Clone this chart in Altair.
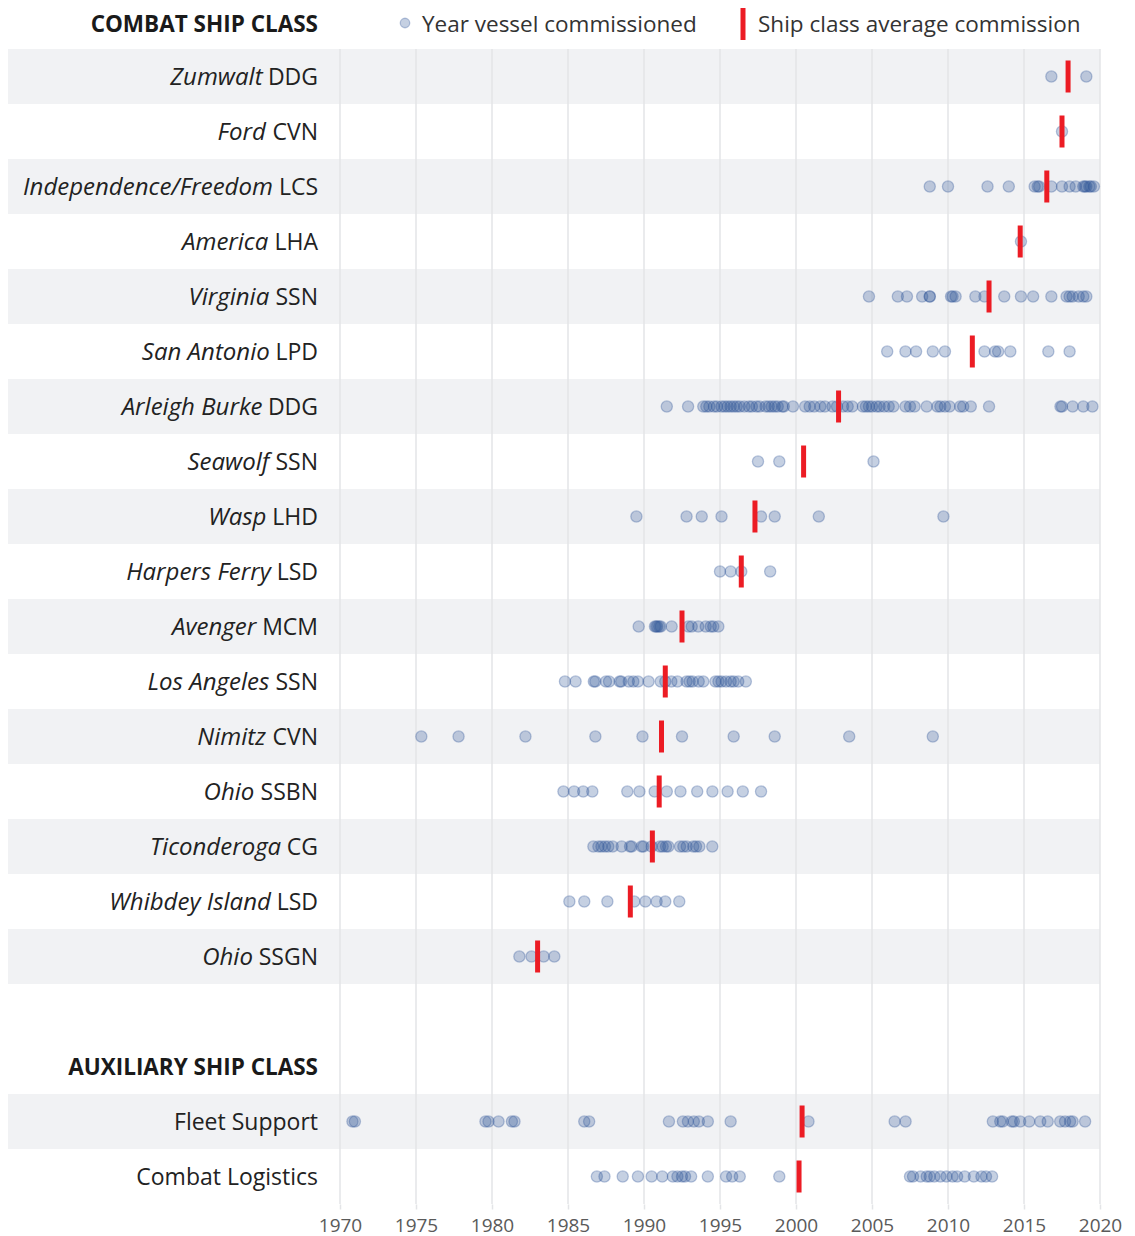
import altair as alt
import pandas as pd

# ---------------- data ----------------
CLASS_NAMES = ["Zumwalt", "Ford", "Independence/Freedom", "America", "Virginia",
               "San Antonio", "Arleigh Burke", "Seawolf", "Wasp", "Harpers Ferry",
               "Avenger", "Los Angeles", "Nimitz", "Ohio", "Ticonderoga",
               "Whibdey Island", "Ohio"]
CLASS_TYPES = ["DDG", "CVN", "LCS", "LHA", "SSN", "LPD", "DDG", "SSN", "LHD", "LSD",
               "MCM", "SSN", "CVN", "SSBN", "CG", "LSD", "SSGN"]

COMBAT_YEARS = [
    [2016.8, 2019.1],
    [2017.5],
    [2008.8, 2010.0, 2012.6, 2014.0, 2015.7, 2015.9, 2016.0, 2016.8, 2017.5, 2018.0,
     2018.4, 2018.9, 2019.0, 2019.1, 2019.3, 2019.4, 2019.6],
    [2014.8],
    [2004.8, 2006.7, 2007.3, 2008.3, 2008.8, 2008.8, 2010.2, 2010.3, 2010.5, 2011.8,
     2012.4, 2013.7, 2014.8, 2015.6, 2016.8, 2017.8, 2018.0, 2018.2, 2018.6, 2018.9, 2019.1],
    [2006.0, 2007.2, 2007.9, 2009.0, 2009.8, 2012.4, 2013.1, 2013.3, 2014.1, 2016.6, 2018.0],
    [1991.5, 1992.9, 1993.9, 1994.1, 1994.3, 1994.6, 1994.8, 1995.1, 1995.3, 1995.5,
     1995.7, 1995.9, 1996.1, 1996.3, 1996.6, 1996.9, 1997.1, 1997.4, 1997.6, 1998.0,
     1998.2, 1998.4, 1998.6, 1998.8, 1999.1, 1999.2, 1999.8, 2000.6, 2000.9, 2001.2,
     2001.6, 2001.9, 2002.4, 2002.7, 2003.1, 2003.4, 2003.7, 2004.4, 2004.6, 2004.8,
     2005.0, 2005.3, 2005.5, 2005.8, 2006.1, 2006.4, 2007.2, 2007.5, 2007.8, 2008.6,
     2009.3, 2009.5, 2009.8, 2010.1, 2010.8, 2011.0, 2011.5, 2012.7, 2017.4, 2017.5,
     2018.2, 2018.9, 2019.5],
    [1997.5, 1998.9, 2005.1],
    [1989.5, 1992.8, 1993.8, 1995.1, 1997.7, 1998.6, 2001.5, 2009.7],
    [1995.0, 1995.7, 1996.4, 1998.3],
    [1989.65, 1990.72, 1990.8, 1990.88, 1991.0, 1991.1, 1991.82, 1992.92, 1993.14,
     1993.57, 1994.06, 1994.39, 1994.56, 1994.89],
    [1984.8, 1985.5, 1986.7, 1986.8, 1987.5, 1987.7, 1988.4, 1988.5, 1989.0, 1989.3,
     1989.6, 1990.3, 1991.1, 1991.4, 1991.8, 1992.2, 1992.8, 1993.0, 1993.2, 1993.6,
     1993.9, 1994.7, 1994.9, 1995.1, 1995.4, 1995.7, 1995.9, 1996.2, 1996.7],
    [1975.35, 1977.8, 1982.2, 1986.8, 1989.9, 1992.5, 1995.9, 1998.6, 2003.5, 2009.0],
    [1984.7, 1985.4, 1986.0, 1986.6, 1988.9, 1989.7, 1990.7, 1991.5, 1992.4, 1993.5,
     1994.5, 1995.5, 1996.5, 1997.7],
    [1986.67, 1987.0, 1987.2, 1987.43, 1987.65, 1987.94, 1988.53, 1989.08, 1989.19,
     1989.85, 1989.96, 1990.5, 1991.05, 1991.23, 1991.45, 1991.6, 1992.37, 1992.59,
     1992.81, 1993.24, 1993.42, 1993.64, 1994.49],
    [1985.09, 1986.07, 1987.59, 1989.36, 1990.09, 1990.83, 1991.4, 1992.32],
    [1981.8, 1982.6, 1983.4, 1984.1],
]
COMBAT_AVERAGES = [2017.9, 2017.5, 2016.5, 2014.75, 2012.7, 2011.6, 2002.8, 2000.5,
                   1997.3, 1996.4, 1992.5, 1991.4, 1991.15, 1991.0, 1990.55, 1989.1,
                   1983.0]

AUX_NAMES = ["Fleet Support", "Combat Logistics"]
AUX_YEARS = [
    [1970.82, 1970.98, 1979.57, 1979.77, 1980.43, 1981.31, 1981.48, 1986.07, 1986.39,
     1991.64, 1992.56, 1992.89, 1993.28, 1993.61, 1994.2, 1995.7, 2000.82, 2006.49,
     2007.21, 2012.95, 2013.44, 2013.6, 2014.2, 2014.33, 2014.75, 2015.34, 2016.07,
     2016.56, 2017.38, 2017.7, 2018.03, 2018.2, 2019.02],
    [1986.9, 1987.4, 1988.6, 1989.6, 1990.5, 1991.2, 1991.9, 1992.2, 1992.5, 1992.7,
     1993.1, 1994.2, 1995.4, 1995.8, 1996.3, 1998.9, 2007.5, 2007.7, 2008.2, 2008.6,
     2008.8, 2009.1, 2009.5, 2009.9, 2010.3, 2010.6, 2011.1, 2011.7, 2012.2, 2012.5,
     2012.9],
]
AUX_AVERAGES = [2000.4, 2000.2]

TICK_YEARS = [1970, 1975, 1980, 1985, 1990, 1995, 2000, 2005, 2010, 2015, 2020]

COMBAT_HEADER = "COMBAT SHIP CLASS"
AUX_HEADER = "AUXILIARY SHIP CLASS"
LEGEND_DOT = "Year vessel commissioned"
LEGEND_BAR = "Ship class average commission"

# ---------------- styling ----------------
FONT = "Open Sans"
LABEL_SIZE = 23
ITALIC_SIZE = 24
HEAD_SIZE = 22.5
LEGEND_SIZE = 22.5
ROW_H = 55
PLOT_W = 760
GREY = "#f1f2f4"
DOT = "#2f5597"
RED = "#ec1c24"
LABEL_X = -22
TOP_Y = -24

# approximate advance widths (em) of capitals in the label font
CAP_EM = {"A": 0.64, "B": 0.65, "C": 0.63, "D": 0.72, "G": 0.71, "H": 0.74,
          "L": 0.52, "M": 0.90, "N": 0.76, "P": 0.60, "S": 0.55, "V": 0.62}
SPACE_EM = 0.26


def text_w(s):
    return sum(CAP_EM.get(c, 0.65) for c in s) * LABEL_SIZE

# ---------------- tables ----------------
combat_keys = [f"{n} {t}" for n, t in zip(CLASS_NAMES, CLASS_TYPES)]
gap_key = "_gap"
domain = combat_keys + [gap_key, AUX_HEADER] + AUX_NAMES
N_ROWS = len(domain)

rows = pd.DataFrame({
    "row": domain,
    "grey": [i % 2 == 0 for i in range(len(combat_keys))] + [False, False] +
            [i % 2 == 0 for i in range(len(AUX_NAMES))],
})

dots = pd.DataFrame(
    [{"row": k, "year": y} for k, ys in zip(combat_keys, COMBAT_YEARS) for y in ys] +
    [{"row": k, "year": y} for k, ys in zip(AUX_NAMES, AUX_YEARS) for y in ys]
)
avgs = pd.DataFrame({"row": combat_keys + AUX_NAMES,
                     "year": COMBAT_AVERAGES + AUX_AVERAGES})
labels = pd.DataFrame({"row": combat_keys, "name": CLASS_NAMES, "type": CLASS_TYPES})
aux_labels = pd.DataFrame({"row": AUX_NAMES, "name": AUX_NAMES})
grid = pd.DataFrame({"year": TICK_YEARS})

yscale = alt.Scale(type="band", domain=domain, paddingInner=0, paddingOuter=0)
Y = alt.Y("row:N", scale=yscale, axis=None)
xaxis = alt.Axis(values=TICK_YEARS, format="d", grid=False, domain=False, ticks=True,
                 tickColor="#e3e4e7", tickSize=5, tickWidth=1.5, labelFontSize=19,
                 labelColor="#5a5a5a", labelFont=FONT, labelPadding=7,
                 labelFlush=False, labelOverlap=False, title=None)
X = alt.X("year:Q", scale=alt.Scale(domain=[1970, 2020], nice=False, zero=False),
          axis=xaxis)

bands = alt.Chart(rows).mark_rect(color=GREY).encode(
    y=Y, x=alt.value(-336), x2=alt.value(PLOT_W)
).transform_filter("datum.grey")

gridlines = alt.Chart(grid).mark_rule(color="#e3e4e7", strokeWidth=1.5).encode(
    x=X, y=alt.value(0), y2=alt.value(ROW_H * N_ROWS)
)

points = alt.Chart(dots).mark_circle(
    size=125, color=DOT, fillOpacity=0.28, stroke=DOT, strokeOpacity=0.32, strokeWidth=1.3
).encode(x=X, y=Y)

avg_ticks = alt.Chart(avgs).mark_tick(color=RED, thickness=5, size=32, opacity=1).encode(
    x=X, y=Y)

type_text = alt.Chart(labels).mark_text(
    align="right", baseline="middle", font=FONT, fontSize=LABEL_SIZE, color="#222222",
    dy=1.5
).encode(y=Y, x=alt.value(LABEL_X), text="type:N")

name_layers = []
for t in sorted(set(CLASS_TYPES)):
    name_layers.append(
        alt.Chart(labels).transform_filter(alt.datum.type == t).mark_text(
            align="right", baseline="middle", font=FONT, fontSize=ITALIC_SIZE,
            fontStyle="italic", color="#222222", dy=1.5,
            dx=-(text_w(t) + SPACE_EM * LABEL_SIZE)
        ).encode(y=Y, x=alt.value(LABEL_X), text="name:N")
    )

aux_text = alt.Chart(aux_labels).mark_text(
    align="right", baseline="middle", font=FONT, fontSize=LABEL_SIZE, color="#222222",
    dy=1.5
).encode(y=Y, x=alt.value(LABEL_X), text="name:N")

aux_head = alt.Chart(pd.DataFrame({"row": [AUX_HEADER]})).mark_text(
    align="right", baseline="middle", font=FONT, fontSize=HEAD_SIZE, fontWeight="bold",
    color="#1a1a1a", dy=1.5
).encode(y=Y, x=alt.value(LABEL_X), text="row:N")

combat_head = alt.Chart(pd.DataFrame({"t": [COMBAT_HEADER]})).mark_text(
    align="right", baseline="middle", font=FONT, fontSize=HEAD_SIZE, fontWeight="bold",
    color="#1a1a1a"
).encode(x=alt.value(LABEL_X), y=alt.value(TOP_Y), text="t:N")

leg_dot = alt.Chart(pd.DataFrame({"t": [LEGEND_DOT]})).mark_circle(
    size=90, color=DOT, fillOpacity=0.28, stroke=DOT, strokeOpacity=0.32, strokeWidth=1.3
).encode(x=alt.value(65), y=alt.value(-26))
leg_dot_text = alt.Chart(pd.DataFrame({"t": [LEGEND_DOT]})).mark_text(
    align="left", baseline="middle", font=FONT, fontSize=LEGEND_SIZE, color="#333333"
).encode(x=alt.value(82), y=alt.value(TOP_Y), text="t:N")
leg_bar = alt.Chart(pd.DataFrame({"t": [LEGEND_BAR]})).mark_rule(
    color=RED, strokeWidth=5
).encode(x=alt.value(403), y=alt.value(-43), y2=alt.value(-9))
leg_bar_text = alt.Chart(pd.DataFrame({"t": [LEGEND_BAR]})).mark_text(
    align="left", baseline="middle", font=FONT, fontSize=LEGEND_SIZE, color="#333333"
).encode(x=alt.value(418), y=alt.value(TOP_Y), text="t:N")

chart = alt.layer(
    bands, gridlines, points, avg_ticks, type_text, *name_layers, aux_text, aux_head,
    combat_head, leg_dot, leg_dot_text, leg_bar, leg_bar_text
).properties(
    width=PLOT_W, height=ROW_H * N_ROWS,
    padding={"left": 332, "top": 41, "right": 27, "bottom": 32},
    autosize=alt.AutoSizeParams(type="none"),
).configure_view(stroke=None)

chart.save("out.html", embed_options={"renderer": "svg", "actions": False})
